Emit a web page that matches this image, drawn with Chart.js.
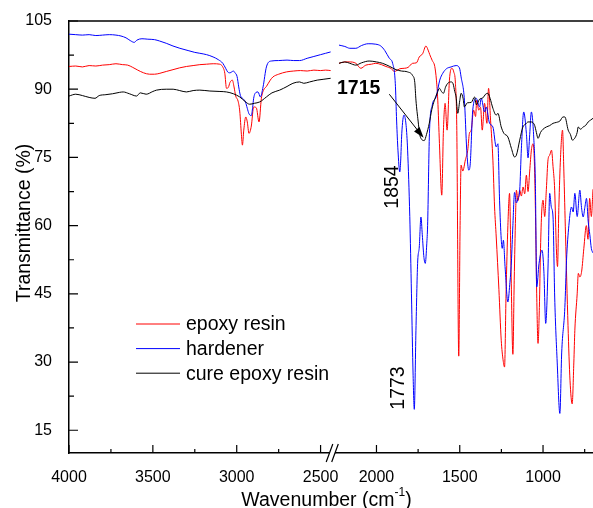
<!DOCTYPE html>
<html>
<head>
<meta charset="utf-8">
<title>FTIR spectra</title>
<script src="https://cdn.jsdelivr.net/npm/chart.js@4.4.1/dist/chart.umd.min.js"></script>
<style>
  body { margin: 0; background: #fff; }
</style>
</head>
<body>
<canvas id="ftir" width="593" height="508"></canvas>
<script>
// [wavenumber cm-1, transmittance %]
// "High" = left part of the broken axis (4000..2440), "Low" = right part (2225..700)
const epoxyHigh = [[4000,95.0],[3960,95.1],[3920,94.9],[3880,95.2],[3840,95.1],[3800,95.3],[3760,95.4],[3720,95.6],[3680,95.4],[3650,95.3],[3620,94.8],[3590,94.2],[3555,93.6],[3520,93.3],[3490,93.3],[3458,93.5],[3420,93.9],[3380,94.3],[3340,94.7],[3300,95.0],[3260,95.2],[3220,95.4],[3180,95.5],[3140,95.6],[3101,95.5],[3085,95.0],[3071,93.5],[3061,90.2],[3050,90.4],[3040,91.5],[3026,92.0],[3016,90.5],[3006,88.5],[2992,87.4],[2982,85.2],[2972,80.0],[2966,77.7],[2958,81.0],[2946,83.9],[2937,82.8],[2927,80.3],[2913,81.9],[2899,86.1],[2883,85.9],[2867,82.8],[2853,88.0],[2840,89.8],[2823,90.6],[2800,92.0],[2784,92.7],[2750,93.3],[2704,93.8],[2660,94.0],[2620,94.1],[2580,94.0],[2540,94.2],[2500,94.1],[2470,94.2],[2440,94.1]];
const epoxyLow = [[2225,95.7],[2190,96.0],[2164,96.0],[2124,95.7],[2094,94.6],[2064,95.3],[2030,95.5],[2004,95.7],[1970,95.4],[1943,95.0],[1910,94.5],[1894,93.9],[1883,94.0],[1860,94.5],[1833,94.6],[1810,94.8],[1783,95.7],[1760,95.8],[1743,97.1],[1723,97.8],[1703,99.5],[1690,98.6],[1680,97.6],[1665,96.3],[1650,95.0],[1640,92.0],[1632,87.6],[1622,78.1],[1608,66.7],[1598,81.0],[1588,86.9],[1576,81.0],[1562,92.0],[1548,94.6],[1536,93.8],[1526,91.3],[1518,82.0],[1506,31.3],[1498,60.0],[1492,73.3],[1482,72.0],[1466,74.5],[1452,76.6],[1442,80.3],[1431,81.0],[1417,85.4],[1405,84.0],[1398,87.6],[1386,85.4],[1375,86.0],[1365,81.0],[1351,86.9],[1337,82.5],[1327,90.2],[1315,83.2],[1301,74.4],[1291,64.1],[1281,57.5],[1265,46.0],[1251,34.8],[1240,30.5],[1231,28.9],[1222,45.0],[1211,60.0],[1201,67.1],[1192,50.0],[1181,31.7],[1173,48.0],[1165,62.0],[1160,67.8],[1150,65.5],[1140,67.8],[1130,66.5],[1120,68.5],[1110,67.0],[1100,71.1],[1090,67.5],[1080,72.0],[1070,76.6],[1060,78.0],[1052,74.0],[1045,62.0],[1038,45.0],[1030,34.1],[1022,42.0],[1015,55.0],[1008,63.0],[1000,65.6],[990,62.0],[980,68.0],[970,74.5],[960,75.5],[949,76.6],[940,73.0],[930,67.8],[920,55.0],[913,51.0],[905,64.0],[895,75.0],[883,81.0],[875,72.0],[865,58.0],[850,38.0],[838,26.0],[825,20.8],[815,30.0],[809,37.0],[795,45.0],[788,49.5],[779,48.7],[768,50.0],[755,55.0],[740,60.0],[730,57.0],[720,66.0],[710,62.0],[700,68.0]];

const hardenerHigh = [[4000,102.1],[3960,102.0],[3920,101.9],[3880,102.0],[3840,101.8],[3800,101.9],[3760,102.0],[3720,101.9],[3690,101.7],[3660,101.3],[3635,100.7],[3611,100.3],[3595,100.8],[3565,101.1],[3530,101.0],[3490,100.9],[3460,100.6],[3420,100.1],[3380,99.5],[3339,99.0],[3290,98.5],[3250,98.1],[3220,97.9],[3180,97.6],[3141,97.1],[3110,96.5],[3083,95.7],[3066,94.6],[3054,93.8],[3040,93.6],[3030,93.8],[3020,94.0],[3010,93.6],[2998,92.8],[2988,90.5],[2978,88.6],[2962,87.9],[2948,87.2],[2937,85.8],[2927,84.6],[2913,84.2],[2905,86.0],[2899,88.0],[2885,89.3],[2873,89.4],[2859,88.3],[2843,90.5],[2823,94.9],[2794,96.2],[2750,96.3],[2700,96.4],[2660,96.3],[2625,96.3],[2580,96.8],[2540,97.2],[2500,97.6],[2470,97.9],[2440,98.2]];
const hardenerLow = [[2225,99.7],[2190,99.4],[2160,99.0],[2124,99.0],[2090,99.6],[2050,100.0],[2004,99.9],[1974,99.5],[1950,98.5],[1923,96.8],[1903,95.7],[1887,91.3],[1879,83.0],[1871,76.6],[1860,71.8],[1855,74.0],[1848,80.3],[1835,84.3],[1822,82.0],[1813,76.6],[1800,62.0],[1790,45.0],[1780,27.0],[1773,19.6],[1763,37.0],[1753,51.7],[1743,55.3],[1733,61.9],[1725,58.0],[1715,53.0],[1707,51.7],[1698,56.0],[1693,60.0],[1682,80.3],[1665,86.5],[1642,88.3],[1620,92.0],[1602,93.5],[1580,94.5],[1552,94.9],[1522,95.2],[1502,94.7],[1492,92.7],[1472,87.6],[1458,76.6],[1446,72.2],[1437,73.6],[1422,85.4],[1401,88.0],[1381,86.1],[1371,88.0],[1351,85.0],[1341,86.1],[1321,82.5],[1301,81.7],[1281,77.3],[1271,78.0],[1261,65.6],[1251,57.0],[1245,55.0],[1238,56.8],[1228,51.0],[1211,43.2],[1200,47.0],[1190,52.0],[1181,60.0],[1171,67.3],[1160,65.0],[1150,66.0],[1140,67.8],[1130,76.9],[1116,85.0],[1100,80.3],[1090,74.9],[1080,80.0],[1070,85.0],[1056,79.5],[1046,69.3],[1038,46.5],[1024,51.7],[1006,54.6],[995,50.0],[984,38.5],[970,50.9],[960,67.1],[950,64.0],[940,61.9],[930,44.3],[915,30.0],[899,18.7],[888,32.0],[869,42.0],[859,52.4],[845,60.0],[829,64.1],[819,63.0],[809,67.1],[795,62.0],[779,67.8],[769,64.0],[759,61.9],[749,64.0],[739,66.0],[729,61.0],[719,58.0],[710,55.0],[700,54.0]];

const curedHigh = [[4000,88.5],[3960,88.9],[3920,88.6],[3880,88.2],[3845,88.0],[3820,88.6],[3780,88.8],[3740,89.0],[3700,89.3],[3677,89.4],[3640,89.0],[3597,88.5],[3575,89.2],[3540,88.9],[3500,89.5],[3478,89.8],[3420,90.0],[3379,90.0],[3340,89.7],[3300,89.4],[3260,89.7],[3220,89.8],[3160,89.6],[3100,89.5],[3061,89.4],[3020,89.0],[2982,88.3],[2950,87.3],[2923,86.7],[2895,86.9],[2863,87.2],[2823,88.3],[2790,89.2],[2744,89.8],[2700,90.6],[2665,91.3],[2625,91.6],[2600,91.3],[2565,91.6],[2520,92.0],[2480,92.2],[2440,92.4]];
const curedLow = [[2225,95.7],[2190,96.0],[2160,95.7],[2124,95.3],[2090,95.8],[2044,96.2],[2000,96.0],[1964,95.7],[1920,95.0],[1883,94.3],[1850,94.0],[1813,93.8],[1783,93.0],[1770,91.5],[1763,87.6],[1750,83.0],[1740,80.0],[1733,79.2],[1713,78.7],[1700,80.0],[1683,82.5],[1668,85.5],[1652,87.6],[1635,89.2],[1622,90.2],[1610,89.5],[1598,89.1],[1585,90.5],[1572,91.3],[1552,91.6],[1540,91.2],[1530,89.5],[1522,88.3],[1512,84.7],[1500,87.5],[1492,89.1],[1480,88.0],[1472,86.1],[1455,87.0],[1431,87.1],[1411,88.3],[1401,86.6],[1381,87.8],[1361,88.1],[1345,88.9],[1331,89.1],[1318,88.0],[1301,85.8],[1281,84.3],[1271,84.7],[1251,81.7],[1235,80.3],[1211,79.5],[1190,77.0],[1171,75.1],[1160,75.5],[1140,78.8],[1121,81.7],[1105,82.3],[1090,82.8],[1070,82.8],[1050,82.0],[1040,80.5],[1030,79.2],[1015,80.5],[1000,81.2],[980,81.7],[960,82.0],[940,82.5],[920,82.7],[899,83.0],[880,83.9],[869,83.9],[849,81.0],[835,80.0],[824,78.8],[810,79.2],[795,80.5],[789,81.7],[775,81.2],[759,81.7],[745,82.0],[729,82.8],[715,83.2],[700,83.6]];

const seriesNames = ['epoxy resin', 'hardener', 'cure epoxy resin'];
const seriesColors = ['#ff0000', '#0000ff', '#000000'];

const yTicks = [15, 30, 45, 60, 75, 90, 105];
const yMinorTicks = [22.5, 37.5, 52.5, 67.5, 82.5, 97.5];
const xTicksHigh = [4000, 3500, 3000, 2500];
const xMinorHigh = [3750, 3250, 2750];
const xTicksLow = [2000, 1500, 1000];
const xMinorLow = [1750, 1250, 750];

const FONT = '"Liberation Sans", Arial, sans-serif';

function toPoints(pairs) {
    return pairs.map(p => ({x: p[0], y: p[1]}));
}

function makeSet(name, pairs, axis, color, order) {
    return {
        label: name,
        data: toPoints(pairs),
        xAxisID: axis,
        borderColor: color,
        borderWidth: 1,
        pointRadius: 0,
        fill: false,
        cubicInterpolationMode: 'monotone',
        order: order
    };
}

// ticks, frame, axis break, legend, titles and peak labels
const decorations = {
    id: 'decorations',
    afterDraw(chart) {
        const ctx = chart.ctx;
        const area = chart.chartArea;
        const y = chart.scales.y;
        const xh = chart.scales.xHigh;
        const xl = chart.scales.xLow;

        ctx.save();
        ctx.strokeStyle = '#000';
        ctx.fillStyle = '#000';

        // top frame line
        ctx.lineWidth = 1.5;
        ctx.beginPath();
        ctx.moveTo(area.left, area.top);
        ctx.lineTo(area.right, area.top);
        ctx.stroke();

        // inward ticks
        ctx.lineWidth = 1.2;
        ctx.beginPath();
        yTicks.forEach(v => {
            const p = y.getPixelForValue(v);
            ctx.moveTo(area.left, p); ctx.lineTo(area.left + 9, p);
        });
        yMinorTicks.forEach(v => {
            const p = y.getPixelForValue(v);
            ctx.moveTo(area.left, p); ctx.lineTo(area.left + 5, p);
        });
        [[xh, xTicksHigh, 8], [xh, xMinorHigh, 4], [xl, xTicksLow, 8], [xl, xMinorLow, 4]].forEach(([sc, list, len]) => {
            list.forEach(v => {
                const p = sc.getPixelForValue(v);
                ctx.moveTo(p, area.bottom); ctx.lineTo(p, area.bottom - len);
            });
        });
        ctx.stroke();

        // axis break marks
        const b = xh.right;
        ctx.fillStyle = '#fff';
        ctx.fillRect(b - 4.5, area.bottom - 2, 5.5, 4);
        ctx.fillStyle = '#000';
        ctx.lineWidth = 1.2;
        ctx.beginPath();
        [b - 4.5, b + 1].forEach(cx => {
            ctx.moveTo(cx - 3.3, area.bottom + 9);
            ctx.lineTo(cx + 3.3, area.bottom - 9);
        });
        ctx.stroke();

        // legend
        ctx.font = '19.5px ' + FONT;
        ctx.textBaseline = 'middle';
        ctx.textAlign = 'left';
        seriesNames.forEach((name, i) => {
            const ly = area.top + 303 + i * 24.6;
            ctx.strokeStyle = seriesColors[i];
            ctx.lineWidth = 1;
            ctx.beginPath();
            ctx.moveTo(area.left + 67, ly);
            ctx.lineTo(area.left + 111, ly);
            ctx.stroke();
            ctx.fillStyle = '#000';
            ctx.fillText(name, area.left + 117, ly + 1);
        });

        // axis titles
        ctx.fillStyle = '#000';
        ctx.textBaseline = 'alphabetic';
        ctx.save();
        ctx.translate(29.5, 223);
        ctx.rotate(-Math.PI / 2);
        ctx.textAlign = 'center';
        ctx.fillText('Transmittance (%)', 0, 0);
        ctx.restore();

        const main = 'Wavenumber (cm';
        const sup = '-1';
        const tail = ')';
        ctx.font = '19.5px ' + FONT;
        const wMain = ctx.measureText(main).width;
        const wTail = ctx.measureText(tail).width;
        ctx.font = '12px ' + FONT;
        const wSup = ctx.measureText(sup).width;
        let tx = 326.5 - (wMain + wSup + wTail) / 2;
        const ty = 505.5;
        ctx.textAlign = 'left';
        ctx.font = '19.5px ' + FONT;
        ctx.fillText(main, tx, ty);
        tx += wMain;
        ctx.font = '12px ' + FONT;
        ctx.fillText(sup, tx, ty - 10);
        tx += wSup;
        ctx.font = '19.5px ' + FONT;
        ctx.fillText(tail, tx, ty);

        // peak annotations
        ctx.font = 'bold 19.5px ' + FONT;
        ctx.textAlign = 'left';
        ctx.fillText('1715', xl.getPixelForValue(2237), y.getPixelForValue(88.9));

        const ax0 = xl.getPixelForValue(1923), ay0 = y.getPixelForValue(88.9);
        const ax1 = xl.getPixelForValue(1717), ay1 = y.getPixelForValue(79.3);
        const ang = Math.atan2(ay1 - ay0, ax1 - ax0);
        ctx.strokeStyle = '#000';
        ctx.lineWidth = 1;
        ctx.beginPath();
        ctx.moveTo(ax0, ay0);
        ctx.lineTo(ax1 - 8 * Math.cos(ang), ay1 - 8 * Math.sin(ang));
        ctx.stroke();
        ctx.beginPath();
        ctx.moveTo(ax1, ay1);
        ctx.lineTo(ax1 - 11 * Math.cos(ang) + 3.5 * Math.sin(ang), ay1 - 11 * Math.sin(ang) - 3.5 * Math.cos(ang));
        ctx.lineTo(ax1 - 11 * Math.cos(ang) - 3.5 * Math.sin(ang), ay1 - 11 * Math.sin(ang) + 3.5 * Math.cos(ang));
        ctx.closePath();
        ctx.fill();

        ctx.font = '19.5px ' + FONT;
        ctx.textAlign = 'center';
        [['1854', 1872, 68.5], ['1773', 1833, 24.3]].forEach(([txt, wn, tv]) => {
            ctx.save();
            ctx.translate(xl.getPixelForValue(wn), y.getPixelForValue(tv));
            ctx.rotate(-Math.PI / 2);
            ctx.fillText(txt, 0, 0);
            ctx.restore();
        });

        ctx.restore();
    }
};

const xAxisCommon = {
    type: 'linear',
    position: 'bottom',
    reverse: true,
    stack: 'wn',
    grid: { display: false },
    border: { display: true, color: '#000', width: 1.5 },
    ticks: {
        color: '#000',
        font: { family: FONT, size: 16 },
        padding: 7,
        autoSkip: false,
        maxRotation: 0,
        minRotation: 0,
        callback: v => String(v)
    },
    afterFit: s => {
        s.height = 55;
        s.paddingLeft = 0;
        s.paddingRight = 0;
    }
};

new Chart(document.getElementById('ftir'), {
    type: 'line',
    data: {
        datasets: [
            makeSet(seriesNames[0], epoxyHigh, 'xHigh', seriesColors[0], 3),
            makeSet(seriesNames[0], epoxyLow, 'xLow', seriesColors[0], 3),
            makeSet(seriesNames[1], hardenerHigh, 'xHigh', seriesColors[1], 2),
            makeSet(seriesNames[1], hardenerLow, 'xLow', seriesColors[1], 2),
            makeSet(seriesNames[2], curedHigh, 'xHigh', seriesColors[2], 1),
            makeSet(seriesNames[2], curedLow, 'xLow', seriesColors[2], 1)
        ]
    },
    options: {
        responsive: false,
        animation: false,
        devicePixelRatio: 1,
        layout: { padding: { left: 0, top: 21, right: 0, bottom: 0 } },
        plugins: { legend: { display: false }, tooltip: { enabled: false } },
        scales: {
            xHigh: Object.assign({}, xAxisCommon, {
                min: 2420, max: 4000, stackWeight: 265,
                afterBuildTicks: s => { s.ticks = xTicksHigh.map(v => ({value: v})); }
            }),
            xLow: Object.assign({}, xAxisCommon, {
                min: 700, max: 2255, stackWeight: 259,
                afterBuildTicks: s => { s.ticks = xTicksLow.map(v => ({value: v})); }
            }),
            y: {
                type: 'linear',
                position: 'left',
                min: 10,
                max: 105,
                grid: { display: false },
                border: { display: true, color: '#000', width: 1.5 },
                ticks: {
                    color: '#000',
                    font: { family: FONT, size: 16 },
                    padding: 9,
                    autoSkip: false,
                    callback: v => String(v)
                },
                afterBuildTicks: s => { s.ticks = yTicks.map(v => ({value: v})); },
                afterFit: s => {
                    s.width = 69;
                    s.paddingTop = 0;
                    s.paddingBottom = 0;
                }
            }
        }
    },
    plugins: [decorations]
});
</script>
</body>
</html>
